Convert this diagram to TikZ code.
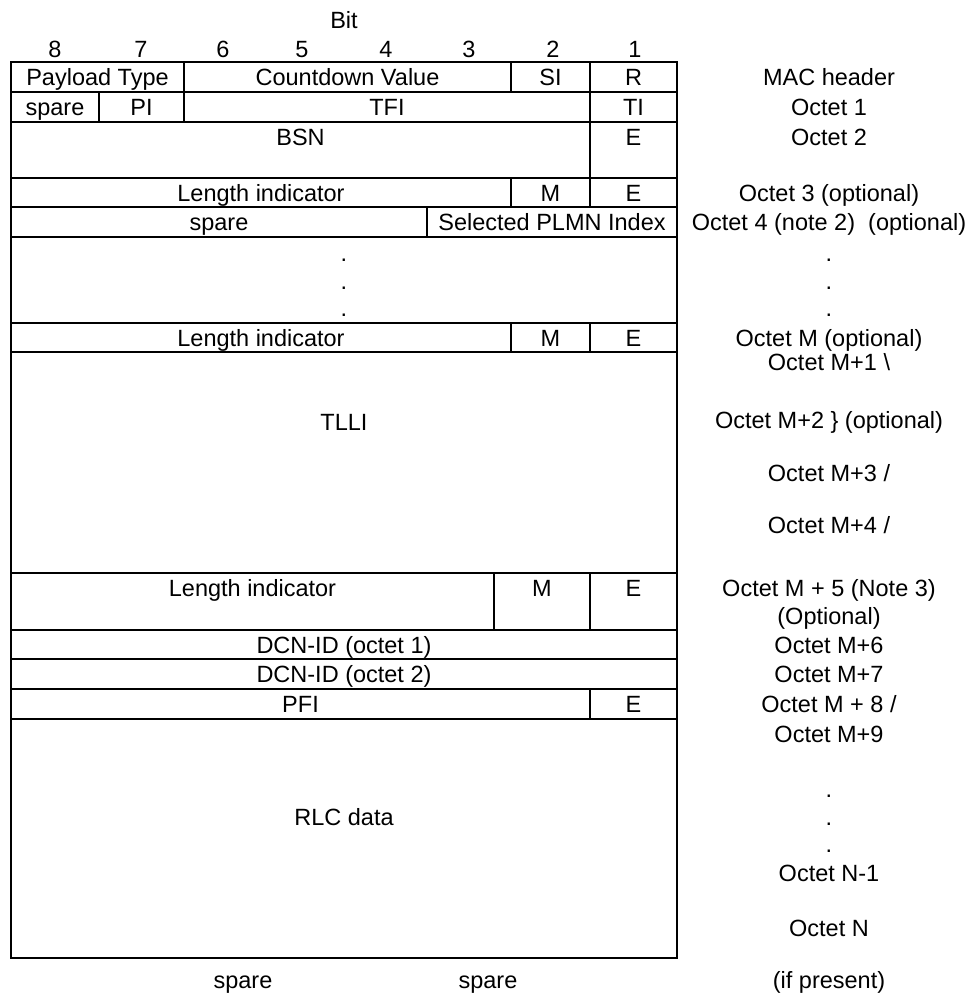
\documentclass[tikz,border=0pt]{standalone}
\usepackage{fontspec}
\setmainfont{Liberation Sans}
\begin{document}
\begin{tikzpicture}[
        x=1pt, y=-1pt,
        every node/.style={inner sep=0pt, anchor=base, font=\fontsize{23.5}{28}\selectfont},
        frame/.style={line width=1.9pt, line cap=rect},
        rowline/.style={line width=1.9pt}
    ]
    \useasboundingbox (0,0) rectangle (970,997);

    % bit numbers
    \node (bit) at (344,28) {Bit};
    \foreach \n/\x in {8/55,7/141,6/223,5/302,4/386,3/469,2/553,1/635}
        \node (b\n) at (\x,57) {\n};

    % outer frame and row lines
    \draw[frame] (11,62) rectangle (677,958);
    \foreach \y in {92,122,178,207,237,323,352,573,630,659,689,719}
        \draw[rowline] (11,\y) -- (677,\y);

    % column dividers
    \draw[rowline] (99,92) -- (99,122);
    \draw[rowline] (184,62) -- (184,122);
    \draw[rowline] (511,62) -- (511,92);
    \draw[rowline] (590,62) -- (590,207);
    \draw[rowline] (511,178) -- (511,207);
    \draw[rowline] (427,207) -- (427,237);
    \draw[rowline] (511,323) -- (511,352);
    \draw[rowline] (590,323) -- (590,352);
    \draw[rowline] (494,573) -- (494,630);
    \draw[rowline] (590,573) -- (590,630);
    \draw[rowline] (590,689) -- (590,719);

    % MAC header
    \node (ptype) at (97.5,85.5) {Payload Type};
    \node (cv) at (347.5,85.5) {Countdown Value};
    \node (si) at (550.5,85.5) {SI};
    \node (r) at (633.5,85.5) {R};
    \node (machdr) at (829,85.5) {MAC header};

    % octet 1
    \node (spare1) at (55,115.5) {spare};
    \node (pi) at (141.5,115.5) {PI};
    \node (tfi) at (387,115.5) {TFI};
    \node (ti) at (633.5,115.5) {TI};
    \node (oct1) at (829,115.5) {Octet 1};

    % octet 2
    \node (bsn) at (300.5,145) {BSN};
    \node (e2) at (633.5,145) {E};
    \node (oct2) at (829,145) {Octet 2};

    % octet 3
    \node (li3) at (261,201) {Length indicator};
    \node (m3) at (550.5,201) {M};
    \node (e3) at (633.5,201) {E};
    \node (oct3) at (829,201) {Octet 3 (optional)};

    % octet 4
    \node (spare4) at (219,230.5) {spare};
    \node (plmn) at (552,230.5) {Selected PLMN Index};
    \node (oct4) at (829,230.5) {Octet 4 (note 2)\ \ (optional)};

    % dots
    \foreach \y [count=\i] in {261,289,316} {
        \node (dl\i) at (344,\y) {.};
        \node (dr\i) at (829,\y) {.};
    }

    % octet M
    \node (lim) at (261,346) {Length indicator};
    \node (mm) at (550.5,346) {M};
    \node (em) at (633.5,346) {E};
    \node (octm) at (829,346) {Octet M (optional)};

    % TLLI
    \node (tlli) at (344,430) {TLLI};
    \node (octm1) at (829,370) {Octet M+1 \textbackslash};
    \node (octm2) at (829,428) {Octet M+2 \} (optional)};
    \node (octm3) at (829,481) {Octet M+3 /};
    \node (octm4) at (829,533) {Octet M+4 /};

    % octet M+5
    \node (lim5) at (252.5,596) {Length indicator};
    \node (mm5) at (542,596) {M};
    \node (em5) at (633.5,596) {E};
    \node (octm5) at (829,596) {Octet M + 5 (Note 3)};
    \node (opt5) at (829,624) {(Optional)};

    % DCN-ID and PFI
    \node (dcn1) at (344,653) {DCN-ID (octet 1)};
    \node (octm6) at (829,653) {Octet M+6};
    \node (dcn2) at (344,682.5) {DCN-ID (octet 2)};
    \node (octm7) at (829,682.5) {Octet M+7};
    \node (pfi) at (300.5,712.5) {PFI};
    \node (epfi) at (633.5,712.5) {E};
    \node (octm8) at (829,712.5) {Octet M + 8 /};

    % RLC data
    \node (rlc) at (344,825.5) {RLC data};
    \node (octm9) at (829,742.5) {Octet M+9};
    \foreach \y [count=\i] in {797,825,852}
        \node (dn\i) at (829,\y) {.};
    \node (octn1) at (829,881.5) {Octet N-1};
    \node (octn) at (829,936.5) {Octet N};

    % spare bits
    \node (sparea) at (243,988.5) {spare};
    \node (spareb) at (488,988.5) {spare};
    \node (ifpres) at (829,988.5) {(if present)};
\end{tikzpicture}
\end{document}
